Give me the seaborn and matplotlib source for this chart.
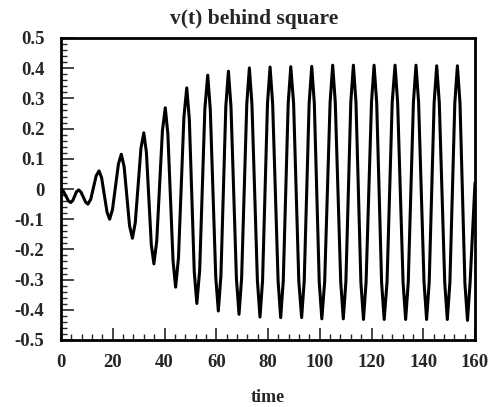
import numpy as np
import pandas as pd
import matplotlib
matplotlib.use("Agg")
import matplotlib.pyplot as plt
from matplotlib.ticker import MultipleLocator
import seaborn as sns

# points on v(t) (extrema plus points on each flank)
time_pts = [0, 0.9, 2.8, 3.7, 4.5, 6.0, 6.8, 7.7, 9.5, 10.4,
            11.5, 13.6, 14.7, 15.7, 17.8, 18.8, 19.9, 22.2, 23.3,
            24.4, 26.5, 27.6, 28.7, 30.9, 32.0, 33.0, 34.9, 35.9,
            37.0, 39.2, 40.3, 41.3, 43.3, 44.3, 45.4, 47.5, 48.6,
            49.6, 51.5, 52.5, 53.6, 55.6, 56.7, 57.7, 59.8, 60.8,
            61.8, 63.7, 64.7, 65.7, 67.8, 68.8, 69.8, 71.8, 72.8,
            73.8, 75.9, 76.9, 77.9, 79.8, 80.8, 81.8, 83.9, 84.9,
            85.9, 87.8, 88.8, 89.9, 91.9, 93.0, 94.0, 95.9, 96.9,
            97.9, 99.8, 100.8, 101.9, 104.0, 105.0, 106.0, 108.1, 109.1,
            110.1, 112.0, 113.0, 114.0, 115.9, 116.9, 117.9, 120.0, 121.0,
            122.0, 123.9, 124.9, 126.0, 128.0, 129.1, 130.1, 132.2, 133.2,
            134.2, 136.2, 137.2, 138.2, 140.3, 141.3, 142.3, 144.2, 145.2,
            146.2, 148.3, 149.3, 150.3, 152.2, 153.2, 154.2, 156.1, 157.1,
            158.1, 160]
v_pts = [0.0, -0.007, -0.038, -0.045, -0.039, -0.009, -0.003, -0.010, -0.043, -0.05,
         -0.034, 0.044, 0.06, 0.037, -0.077, -0.10, -0.068, 0.083, 0.115,
         0.074, -0.122, -0.163, -0.112, 0.135, 0.186, 0.122, -0.184, -0.248,
         -0.172, 0.193, 0.269, 0.182, -0.238, -0.325, -0.228, 0.238, 0.335,
         0.230, -0.274, -0.379, -0.268, 0.266, 0.377, 0.263, -0.290, -0.404,
         -0.288, 0.274, 0.39, 0.272, -0.297, -0.415, -0.296, 0.282, 0.401,
         0.280, -0.303, -0.424, -0.303, 0.283, 0.404, 0.282, -0.304, -0.426,
         -0.304, 0.283, 0.405, 0.283, -0.304, -0.426, -0.304, 0.284, 0.406,
         0.284, -0.308, -0.43, -0.307, 0.287, 0.41, 0.287, -0.307, -0.43,
         -0.307, 0.287, 0.41, 0.287, -0.309, -0.432, -0.309, 0.287, 0.41,
         0.287, -0.309, -0.432, -0.309, 0.287, 0.41, 0.287, -0.309, -0.432,
         -0.309, 0.287, 0.41, 0.287, -0.309, -0.432, -0.309, 0.285, 0.408,
         0.285, -0.309, -0.432, -0.309, 0.285, 0.408, 0.285, -0.312, -0.435,
         -0.31, 0.02]

x_ticks = [0, 20, 40, 60, 80, 100, 120, 140, 160]
y_ticks = [0.5, 0.4, 0.3, 0.2, 0.1, 0, -0.1, -0.2, -0.3, -0.4, -0.5]
y_labels = ["0.5", "0.4", "0.3", "0.2", "0.1", "0", "-0.1", "-0.2", "-0.3", "-0.4", "-0.5"]

df = pd.DataFrame({"time": time_pts, "v": v_pts})

sns.set_style("ticks")
plt.rcParams["font.family"] = ["Liberation Serif", "DejaVu Serif"]
plt.rcParams["font.weight"] = "bold"

fig = plt.figure(figsize=(4.91, 4.07), dpi=100)
ax = fig.add_axes([61 / 491, 1 - 340 / 407, 414 / 491, 302 / 407])

sns.lineplot(data=df, x="time", y="v", color="black", linewidth=2.2, ax=ax,
             solid_joinstyle="round", solid_capstyle="round")

ax.set_xlim(0, 160)
ax.set_ylim(-0.5, 0.5)
ax.set_xticks(x_ticks)
ax.set_xticklabels([str(t) for t in x_ticks])
ax.set_yticks(y_ticks)
ax.set_yticklabels(y_labels)
ax.xaxis.set_minor_locator(MultipleLocator(4))
ax.yaxis.set_minor_locator(MultipleLocator(0.02))

ax.tick_params(which="major", direction="in", length=9, width=1.2,
               labelsize=13.5, pad=10, top=False, right=False)
ax.tick_params(which="minor", direction="in", length=4.5, width=1.0,
               top=False, right=False)
ax.tick_params(axis="y", which="major", pad=12)
for lab in ax.get_xticklabels() + ax.get_yticklabels():
    lab.set_fontweight("bold")

for side in ["left", "right", "top", "bottom"]:
    ax.spines[side].set_visible(True)
    ax.spines[side].set_linewidth(2)
    ax.spines[side].set_color("black")

ax.set_xlabel("time", fontsize=13, fontweight="bold", labelpad=13)
ax.set_ylabel("")
ax.set_title("v(t) behind square", fontsize=15.5, fontweight="bold", pad=10, x=0.466)

fig.savefig("out.png", dpi=100)
